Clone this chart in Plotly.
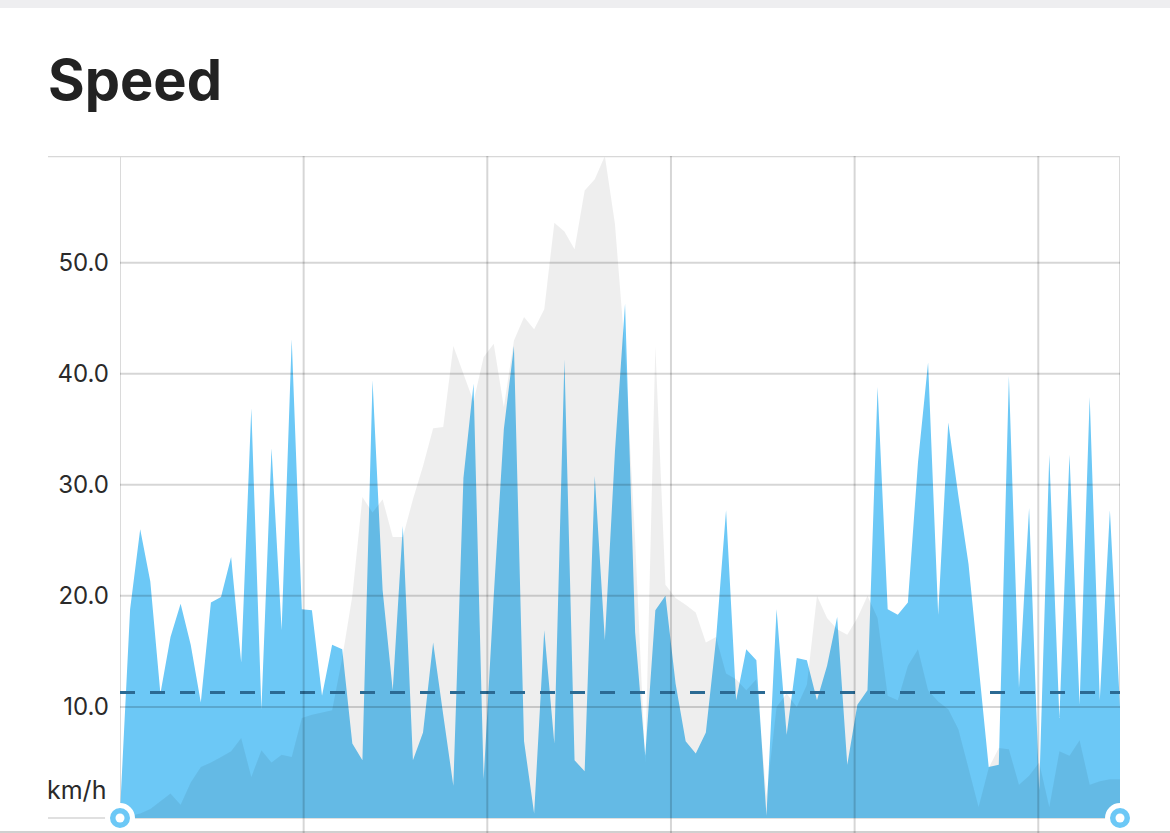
import plotly.graph_objects as go

# ---------------- data ----------------
speed_kmh = [
    0.5, 18.8, 26.0, 21.3, 11.2, 16.3, 19.3, 15.6, 10.4, 19.4,
    19.9, 23.5, 14.0, 36.9, 9.8, 33.3, 16.9, 43.1, 18.8, 18.7,
    11.0, 15.6, 15.2, 6.7, 5.2, 39.4, 20.5, 11.5, 26.3, 5.2,
    7.7, 15.8, 9.3, 2.9, 30.6, 39.1, 3.5, 20.0, 35.0, 42.5,
    6.9, 0.4, 16.9, 6.7, 41.3, 5.2, 4.2, 30.8, 16.0, 33.0,
    46.3, 16.7, 5.6, 18.7, 20.0, 12.1, 6.9, 5.8, 7.7, 16.0,
    27.7, 10.6, 15.2, 14.2, 0.2, 18.8, 7.5, 14.4, 14.2, 10.6,
    13.7, 18.1, 4.8, 10.2, 11.5, 38.8, 18.8, 18.3, 19.4, 32.0,
    41.0, 18.3, 35.6, 29.0, 22.9, 14.0, 4.6, 4.8, 39.8, 11.7,
    27.9, 2.5, 32.7, 9.0, 32.7, 10.2, 37.9, 10.6, 27.7, 10.0,
]

compare_kmh = [
    0.0, 0.2, 0.4, 0.8, 1.5, 2.2, 1.2, 3.2, 4.6, 5.0,
    5.5, 6.0, 7.2, 3.7, 6.1, 5.0, 5.7, 5.5, 9.0, 9.3,
    9.5, 9.7, 14.4, 20.0, 28.9, 27.5, 28.7, 25.3, 25.3, 28.7,
    31.7, 35.1, 35.2, 42.5, 40.0, 37.5, 41.5, 42.7, 37.0, 43.0,
    45.1, 44.0, 45.8, 53.6, 52.8, 51.2, 56.5, 57.5, 59.6, 53.5,
    42.0, 25.0, 5.0, 42.5, 21.0, 19.8, 19.2, 18.5, 15.8, 16.3,
    13.0, 12.5, 11.5, 12.5, 2.0, 10.0, 11.2, 10.0, 12.0, 20.0,
    18.0, 17.0, 16.5, 18.0, 20.0, 18.0, 11.0, 10.6, 13.7, 15.2,
    11.5, 10.5, 9.8, 8.0, 4.5, 1.0, 4.5, 6.3, 6.2, 3.0,
    3.8, 5.0, 1.0, 6.0, 5.6, 7.0, 3.0, 3.3, 3.5, 3.5,
]

AVG_SPEED_KMH = 11.3
SAMPLE_INTERVAL_S = 9.9
GRID_STEP_S = 180
Y_TICKS = [10, 20, 30, 40, 50]
TITLE = "Speed"
UNIT = "km/h"

time_s = [i * SAMPLE_INTERVAL_S for i in range(len(speed_kmh))]

# ---------------- styling / layout helpers ----------------
W, H = 1170, 833
L, R, T, B = 120, 50, 156, 0
PW, PH = W - L - R, H - T - B


def paper_x(px):
    return (px - L) / PW


def paper_y(py):
    return (H - B - py) / PH


BLUE = "#6CC8F6"
GRID = "rgba(0,0,0,0.16)"
FONT = "Inter"
TXT = "#2A2A2A"

y_top = max(compare_kmh)
y_bottom = -1.35

fig = go.Figure()

# speed area
fig.add_trace(go.Scatter(
    x=time_s, y=speed_kmh, mode="lines", fill="tozeroy",
    line=dict(width=0, color=BLUE), fillcolor=BLUE,
    hoverinfo="skip", showlegend=False,
))
# comparison area (grey, multiplies over blue)
fig.add_trace(go.Scatter(
    x=time_s, y=compare_kmh, mode="lines", fill="tozeroy",
    line=dict(width=0, color="rgba(0,0,0,0)"), fillcolor="rgba(0,0,0,0.066)",
    hoverinfo="skip", showlegend=False,
))
# average dashed line
fig.add_trace(go.Scatter(
    x=[time_s[0], time_s[-1]], y=[AVG_SPEED_KMH, AVG_SPEED_KMH], mode="lines",
    line=dict(color="#2B6A93", width=2.8, dash="15px,15px"),
    hoverinfo="skip", showlegend=False,
))
# range handles
ends_x = [time_s[0], time_s[-1]]
fig.add_trace(go.Scatter(
    x=ends_x, y=[0, 0], mode="markers", cliponaxis=False,
    marker=dict(size=25, color=BLUE, line=dict(color="white", width=5)),
    hoverinfo="skip", showlegend=False,
))
fig.add_trace(go.Scatter(
    x=ends_x, y=[0, 0], mode="markers", cliponaxis=False,
    marker=dict(size=9, color="white"),
    hoverinfo="skip", showlegend=False,
))

shapes = []
# top grey band of the page
shapes.append(dict(type="rect", xref="paper", yref="paper",
                   x0=paper_x(0), x1=paper_x(W), y0=paper_y(8), y1=paper_y(0),
                   fillcolor="#EEEEF0", line=dict(width=0), layer="below"))
# bottom page rule
shapes.append(dict(type="line", xref="paper", yref="paper",
                   x0=paper_x(0), x1=paper_x(W), y0=paper_y(832), y1=paper_y(832),
                   line=dict(color="#D0D0D0", width=2), layer="above"))
# baseline at zero
shapes.append(dict(type="line", xref="paper", yref="y",
                   x0=paper_x(48), x1=1, y0=0, y1=0,
                   line=dict(color="#E0E0E0", width=2), layer="below"))
# plot left/right borders
for xv in ends_x:
    shapes.append(dict(type="line", xref="x", yref="paper",
                       x0=xv, x1=xv, y0=0, y1=1,
                       line=dict(color="#DADADA", width=2), layer="below"))
# top rule
shapes.append(dict(type="line", xref="paper", yref="y",
                   x0=paper_x(48), x1=1, y0=y_top, y1=y_top,
                   line=dict(color="#D8D8D8", width=2.5), layer="above"))
# horizontal grid lines (drawn over the areas)
for v in Y_TICKS:
    shapes.append(dict(type="line", xref="paper", yref="y",
                       x0=0, x1=1, y0=v, y1=v,
                       line=dict(color=GRID, width=2), layer="above"))
# vertical grid lines every 3 minutes
t = GRID_STEP_S
while t < time_s[-1] - 1:
    shapes.append(dict(type="line", xref="x", yref="paper",
                       x0=t, x1=t, y0=0, y1=1,
                       line=dict(color=GRID, width=2), layer="above"))
    t += GRID_STEP_S

annotations = [
    dict(text=TITLE, xref="paper", yref="paper", x=paper_x(46), y=paper_y(80),
         xanchor="left", yanchor="middle", showarrow=False,
         font=dict(family=FONT, size=56, color="#222222", weight=700)),
    dict(text=UNIT, xref="paper", yref="paper", x=paper_x(108), y=paper_y(790),
         xanchor="right", yanchor="middle", showarrow=False,
         font=dict(family=FONT, size=25, color=TXT)),
]

fig.update_layout(
    width=W, height=H,
    margin=dict(l=L, r=R, t=T, b=B, pad=0),
    paper_bgcolor="white", plot_bgcolor="white",
    shapes=shapes, annotations=annotations,
    font=dict(family=FONT, size=24, color=TXT),
    xaxis=dict(range=[time_s[0], time_s[-1]], showgrid=False, zeroline=False,
               showticklabels=False, ticks="", showline=False, fixedrange=True),
    yaxis=dict(range=[y_bottom, y_top], showgrid=False, zeroline=False,
               tickvals=Y_TICKS, ticktext=[f"{v:.1f}" for v in Y_TICKS],
               ticks="", showline=False, ticklabelstandoff=10,
               tickfont=dict(family=FONT, size=24, color=TXT), fixedrange=True),
    hovermode=False,
)

fig.write_html(
    "out.html",
    config={"displayModeBar": False},
    post_script="document.body.style.margin='0px';",
)
